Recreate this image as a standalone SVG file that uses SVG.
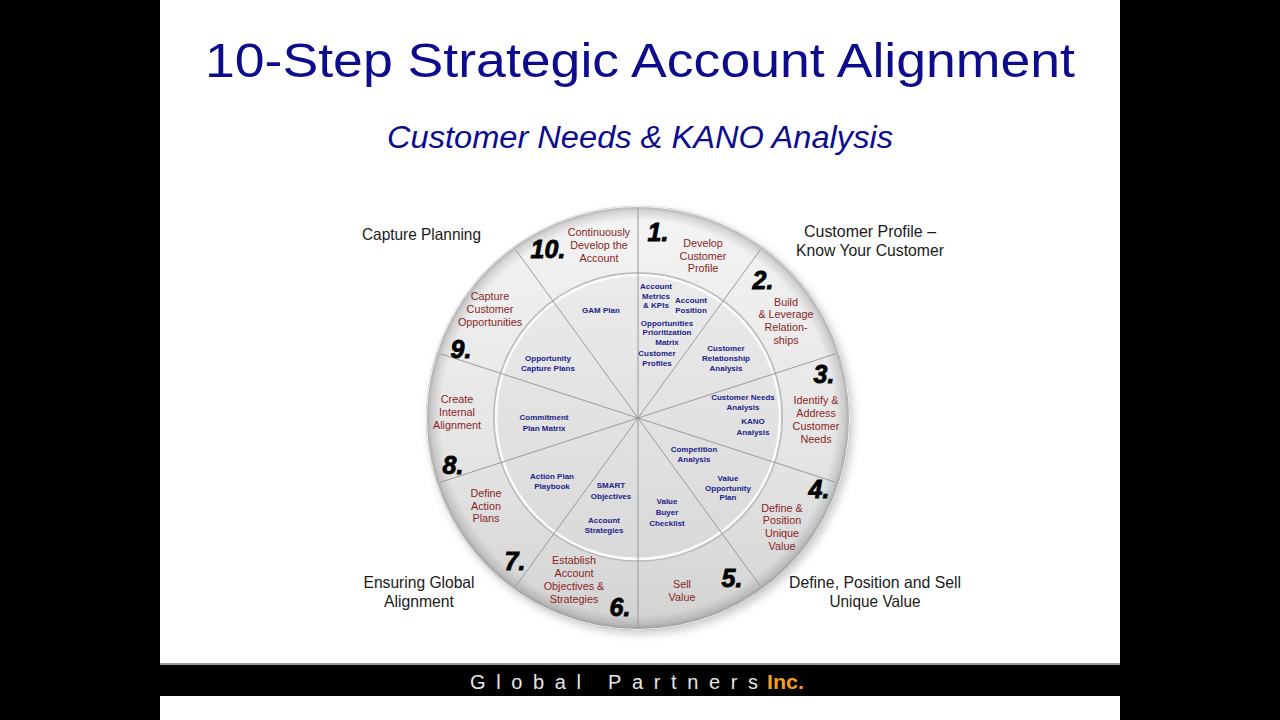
<svg xmlns="http://www.w3.org/2000/svg" width="1280" height="720" viewBox="0 0 1280 720">
<defs>
<style>
.title{font-family:"Liberation Sans",Arial,sans-serif;fill:#0c0c8c}
.outer{font-family:"Liberation Sans Narrow","Liberation Sans",Arial,sans-serif;font-size:16.5px;fill:#1a1a1a;text-anchor:middle}
.red{font-family:"Liberation Sans",Arial,sans-serif;font-size:10.8px;fill:#8a1f1f;text-anchor:middle}
.blue{font-family:"Liberation Sans",Arial,sans-serif;font-size:8px;font-weight:bold;fill:#22228a;text-anchor:middle}
.num{font-family:"Liberation Sans",Arial,sans-serif;font-size:25px;font-weight:bold;font-style:italic;fill:#000;stroke:#000;stroke-width:0.8;text-anchor:middle}
.div{stroke:#9a9a9a;stroke-width:1;fill:none}
</style>
<linearGradient id="diskG" x1="0" y1="0" x2="0" y2="1">
<stop offset="0" stop-color="#f4f4f4"/>
<stop offset="0.6" stop-color="#e4e4e4"/>
<stop offset="1" stop-color="#d2d2d2"/>
</linearGradient>
<radialGradient id="rimG" cx="0.5" cy="0.5" r="0.5">
<stop offset="0.93" stop-color="#000" stop-opacity="0"/>
<stop offset="0.975" stop-color="#000" stop-opacity="0.12"/>
<stop offset="1" stop-color="#000" stop-opacity="0.28"/>
</radialGradient>
<linearGradient id="innerG" x1="0" y1="0" x2="0" y2="1">
<stop offset="0" stop-color="#ebebeb"/>
<stop offset="1" stop-color="#d9d9d9"/>
</linearGradient>
<filter id="sh" x="-20%" y="-20%" width="140%" height="140%">
<feGaussianBlur stdDeviation="4"/>
</filter>
</defs>

<rect x="0" y="0" width="1280" height="720" fill="#000"/>
<rect x="160" y="0" width="960" height="720" fill="#fff"/>

<text class="title" x="640" y="77" font-size="49" text-anchor="middle" textLength="870" lengthAdjust="spacingAndGlyphs">10-Step Strategic Account Alignment</text>
<text class="title" x="640" y="148" font-size="31" font-style="italic" text-anchor="middle" textLength="506" lengthAdjust="spacingAndGlyphs">Customer Needs &amp; KANO Analysis</text>

<g id="wheel">
<circle cx="641" cy="422" r="212" fill="#9a9a9a" opacity="0.5" filter="url(#sh)"/>
<circle cx="638" cy="418" r="212" fill="url(#diskG)"/>
<circle cx="638" cy="418" r="212" fill="url(#rimG)"/>
<circle cx="638" cy="418" r="211.5" fill="none" stroke="#f4f4f4" stroke-width="1"/>
<circle cx="638" cy="417" r="144" fill="none" stroke="#bcbcbc" stroke-width="2"/>
<circle cx="638" cy="417" r="142" fill="url(#innerG)" stroke="#fbfbfb" stroke-width="2.5"/>
</g>

<g id="connectors">
<line class="div" x1="638" y1="418" x2="638" y2="208"/>
<line class="div" x1="638" y1="418" x2="760.3" y2="249.8"/>
<line class="div" x1="638" y1="418" x2="835.8" y2="353.7"/>
<line class="div" x1="638" y1="418" x2="835.8" y2="482.3"/>
<line class="div" x1="638" y1="418" x2="760.3" y2="586.2"/>
<line class="div" x1="638" y1="418" x2="638" y2="628"/>
<line class="div" x1="638" y1="418" x2="515.7" y2="586.2"/>
<line class="div" x1="638" y1="418" x2="440.2" y2="482.3"/>
<line class="div" x1="638" y1="418" x2="440.2" y2="353.7"/>
<line class="div" x1="638" y1="418" x2="515.7" y2="249.8"/>
</g>

<g id="step10">
<text class="num" x="548" y="258">10.</text>
<text class="red" x="599" y="236">Continuously</text>
<text class="red" x="599" y="249">Develop the</text>
<text class="red" x="599" y="262">Account</text>
</g>
<g id="step1">
<text class="num" x="658" y="241">1.</text>
<text class="red" x="703" y="247">Develop</text>
<text class="red" x="703" y="260">Customer</text>
<text class="red" x="703" y="272">Profile</text>
</g>
<g id="step2">
<text class="num" x="763" y="289">2.</text>
<text class="red" x="786" y="306">Build</text>
<text class="red" x="786" y="318">&amp; Leverage</text>
<text class="red" x="786" y="331">Relation-</text>
<text class="red" x="786" y="344">ships</text>
</g>
<g id="step3">
<text class="num" x="824" y="383">3.</text>
<text class="red" x="816" y="404">Identify &amp;</text>
<text class="red" x="816" y="417">Address</text>
<text class="red" x="816" y="430">Customer</text>
<text class="red" x="816" y="443">Needs</text>
</g>
<g id="step4">
<text class="num" x="819" y="498">4.</text>
<text class="red" x="782" y="512">Define &amp;</text>
<text class="red" x="782" y="524">Position</text>
<text class="red" x="782" y="537">Unique</text>
<text class="red" x="782" y="550">Value</text>
</g>
<g id="step5">
<text class="num" x="732" y="587">5.</text>
<text class="red" x="682" y="588">Sell</text>
<text class="red" x="682" y="601">Value</text>
</g>
<g id="step6">
<text class="num" x="620" y="616">6.</text>
<text class="red" x="574" y="564">Establish</text>
<text class="red" x="574" y="577">Account</text>
<text class="red" x="574" y="590">Objectives &amp;</text>
<text class="red" x="574" y="603">Strategies</text>
</g>
<g id="step7">
<text class="num" x="515" y="570">7.</text>
<text class="red" x="486" y="497">Define</text>
<text class="red" x="486" y="510">Action</text>
<text class="red" x="486" y="522">Plans</text>
</g>
<g id="step8">
<text class="num" x="453" y="474">8.</text>
<text class="red" x="457" y="403">Create</text>
<text class="red" x="457" y="416">Internal</text>
<text class="red" x="457" y="429">Alignment</text>
</g>
<g id="step9">
<text class="num" x="461" y="358">9.</text>
<text class="red" x="490" y="300">Capture</text>
<text class="red" x="490" y="313">Customer</text>
<text class="red" x="490" y="326">Opportunities</text>
</g>

<g id="inner-labels">
<text class="blue" x="601" y="313">GAM Plan</text>
<text class="blue" x="656" y="289">Account</text>
<text class="blue" x="656" y="299">Metrics</text>
<text class="blue" x="656" y="308">&amp; KPIs</text>
<text class="blue" x="691" y="303">Account</text>
<text class="blue" x="691" y="313">Position</text>
<text class="blue" x="667" y="326">Opportunities</text>
<text class="blue" x="667" y="335">Prioritization</text>
<text class="blue" x="667" y="345">Matrix</text>
<text class="blue" x="657" y="356">Customer</text>
<text class="blue" x="657" y="366">Profiles</text>
<text class="blue" x="726" y="351">Customer</text>
<text class="blue" x="726" y="361">Relationship</text>
<text class="blue" x="726" y="371">Analysis</text>
<text class="blue" x="743" y="400">Customer Needs</text>
<text class="blue" x="743" y="410">Analysis</text>
<text class="blue" x="753" y="424">KANO</text>
<text class="blue" x="753" y="435">Analysis</text>
<text class="blue" x="694" y="452">Competition</text>
<text class="blue" x="694" y="462">Analysis</text>
<text class="blue" x="728" y="481">Value</text>
<text class="blue" x="728" y="491">Opportunity</text>
<text class="blue" x="728" y="500">Plan</text>
<text class="blue" x="667" y="504">Value</text>
<text class="blue" x="667" y="515">Buyer</text>
<text class="blue" x="667" y="526">Checklist</text>
<text class="blue" x="611" y="488">SMART</text>
<text class="blue" x="611" y="499">Objectives</text>
<text class="blue" x="604" y="523">Account</text>
<text class="blue" x="604" y="533">Strategies</text>
<text class="blue" x="552" y="479">Action Plan</text>
<text class="blue" x="552" y="489">Playbook</text>
<text class="blue" x="544" y="420">Commitment</text>
<text class="blue" x="544" y="431">Plan Matrix</text>
<text class="blue" x="548" y="361">Opportunity</text>
<text class="blue" x="548" y="371">Capture Plans</text>
</g>

<g id="phase-labels">
<text class="outer" x="421.5" y="240" textLength="119" lengthAdjust="spacingAndGlyphs">Capture Planning</text>
<text class="outer" x="870" y="237" textLength="132" lengthAdjust="spacingAndGlyphs">Customer Profile –</text>
<text class="outer" x="870" y="256" textLength="148" lengthAdjust="spacingAndGlyphs">Know Your Customer</text>
<text class="outer" x="419" y="588" textLength="111" lengthAdjust="spacingAndGlyphs">Ensuring Global</text>
<text class="outer" x="419" y="607" textLength="70" lengthAdjust="spacingAndGlyphs">Alignment</text>
<text class="outer" x="875" y="588" textLength="172" lengthAdjust="spacingAndGlyphs">Define, Position and Sell</text>
<text class="outer" x="875" y="607" textLength="91" lengthAdjust="spacingAndGlyphs">Unique Value</text>
</g>

<g id="footer">
<rect x="160" y="663" width="960" height="2" fill="#9a9a9a"/>
<rect x="160" y="665" width="960" height="31" fill="#000"/>
<text x="470" y="689" font-family="Liberation Sans Narrow,Liberation Sans,Arial,sans-serif" font-size="20" fill="#e6e6e6" textLength="288" lengthAdjust="spacing">Global Partners</text>
<text x="767" y="689" font-family="Liberation Sans Narrow,Liberation Sans,Arial,sans-serif" font-size="20" font-weight="bold" fill="#f0a020" textLength="37" lengthAdjust="spacingAndGlyphs">Inc.</text>
</g>
</svg>
